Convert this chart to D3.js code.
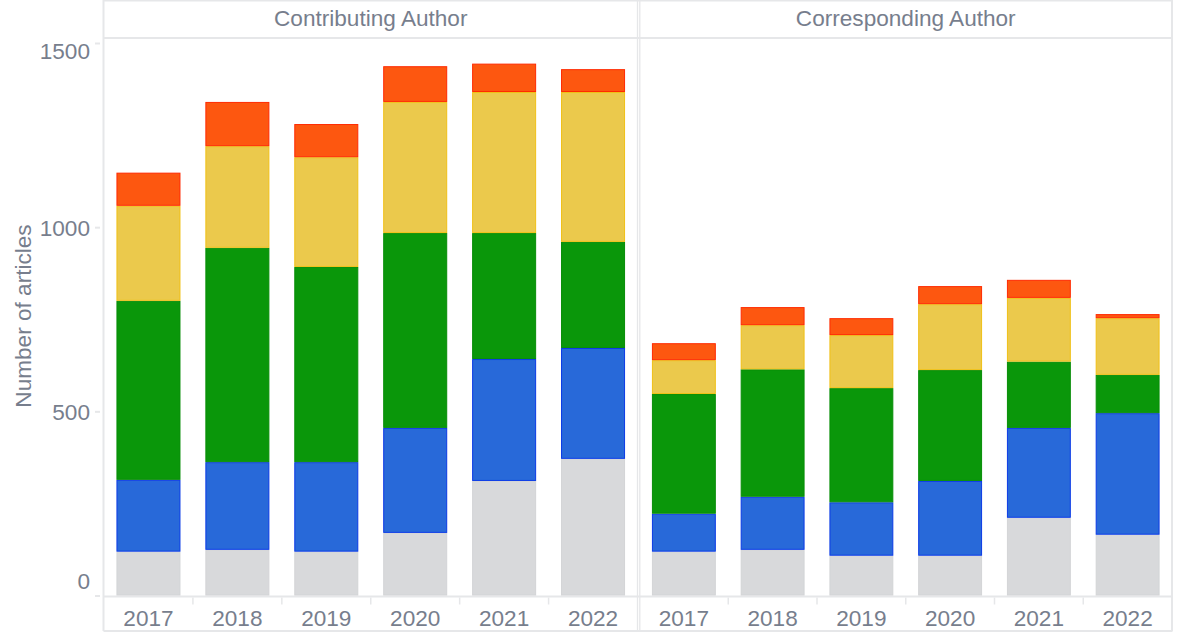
<!DOCTYPE html>
<html>
<head>
<meta charset="utf-8">
<script src="https://cdn.jsdelivr.net/npm/d3@7"></script>
<style>
  html, body { margin: 0; padding: 0; background: #fff; }
  svg { display: block; }
  text { font-family: "Liberation Sans", Arial, Helvetica, sans-serif; fill: #777e8d; }
</style>
</head>
<body>
<svg id="chart" width="1178" height="634"></svg>
<script>
// ---- data ----
const years = ["2017", "2018", "2019", "2020", "2021", "2022"];
const panels = ["Contributing Author", "Corresponding Author"];
const seriesKeys = ["grey", "blue", "green", "yellow", "red"];
const seriesFill = ["#d8d9db", "#2869d9", "#0a970a", "#ebc94c", "#fd5710"];
const seriesStroke = ["#d3d4d6", "#0a3ae6", "#078d07", "#f0c016", "#ff2a00"];
// Contributing Author values by series (per year)
const contribGrey   = [119, 124, 119, 170, 311, 371];
const contribBlue   = [195, 238, 243, 285, 331, 301];
const contribGreen  = [486, 582, 530, 529, 342, 288];
const contribYellow = [258, 276, 298, 356, 383, 407];
const contribRed    = [ 90, 120,  90,  97,  77,  62];
// Corresponding Author values by series (per year)
const corrGrey   = [119, 124, 108, 108, 211, 165];
const corrBlue   = [103, 144, 145, 203, 244, 330];
const corrGreen  = [325, 346, 310, 301, 180, 104];
const corrYellow = [ 92, 120, 144, 179, 173, 154];
const corrRed    = [ 46,  49,  46,  49,  49,  11];
const yTicks = [0, 500, 1000, 1500];
const yTitle = "Number of articles";

const panelData = [
  [contribGrey, contribBlue, contribGreen, contribYellow, contribRed],
  [corrGrey, corrBlue, corrGreen, corrYellow, corrRed]
];

// ---- layout ----
const svg = d3.select("#chart");
const frameColor = "#e6e7e9";
const fontSize = "22.6px";
const frameTop = 0.5, headerBottom = 38, axisY = 596.5, frameBottom = 631;
const panelX = [[104, 637.5], [639.5, 1172]];

const y = d3.scaleLinear().domain([0, 1500]).range([595.5, 43]);

// frame lines
const g0 = svg.append("g");
g0.append("line").attr("x1", 103.5).attr("x2", 103.5).attr("y1", 0).attr("y2", frameBottom)
  .attr("stroke", frameColor).attr("stroke-width", 2);
[frameTop, headerBottom, axisY, frameBottom].forEach(yy => {
  g0.append("line").attr("x1", 103.5).attr("x2", 1172.5).attr("y1", yy).attr("y2", yy)
    .attr("stroke", frameColor).attr("stroke-width", 2);
});
[637.5, 639.8, 1172].forEach(x => {
  g0.append("line").attr("x1", x).attr("x2", x).attr("y1", 0).attr("y2", frameBottom)
    .attr("stroke", frameColor).attr("stroke-width", x === 1172 ? 2 : 1.3);
});

// y axis
const yAxis = d3.axisLeft(y).tickValues(yTicks).tickSize(5).tickPadding(5).tickFormat(d3.format("d"));
const ya = svg.append("g").attr("transform", "translate(100,0)").call(yAxis);
ya.select(".domain").remove();
ya.selectAll(".tick line").attr("stroke", frameColor).attr("stroke-width", 2);
ya.selectAll(".tick text")
  .style("font-size", fontSize)
  .attr("fill", "#777e8d")
  .attr("dy", d => d === 0 ? "-0.32em" : (d === 1500 ? "0.7em" : "0.35em"));

svg.append("text")
  .attr("transform", "translate(31,316) rotate(-90)")
  .attr("text-anchor", "middle")
  .style("font-size", fontSize)
  .text(yTitle);

// panels
panels.forEach((name, pi) => {
  const [x0, x1] = panelX[pi];
  const x = d3.scaleBand().domain(years).range([x0, x1]).paddingInner(0.28).paddingOuter(0.14);
  const g = svg.append("g");

  g.append("text")
    .attr("x", (x0 + x1) / 2).attr("y", 26)
    .attr("text-anchor", "middle")
    .style("font-size", fontSize)
    .text(name);

  const rows = years.map((yr, i) => {
    const r = { year: yr };
    seriesKeys.forEach((k, si) => r[k] = panelData[pi][si][i]);
    return r;
  });
  const stacked = d3.stack().keys(seriesKeys)(rows);

  stacked.forEach((layer, si) => {
    g.selectAll(null).data(layer).enter().append("rect")
      .attr("x", d => x(d.data.year) + 0.5)
      .attr("width", x.bandwidth() - 1)
      .attr("y", d => y(d[1]) + 0.5)
      .attr("height", d => Math.max(0, y(d[0]) - y(d[1]) - 1))
      .attr("fill", seriesFill[si])
      .attr("stroke", seriesStroke[si])
      .attr("stroke-width", 1);
  });

  // x axis with ticks at band boundaries
  const xa = g.append("g").attr("transform", `translate(0,${axisY})`);
  years.forEach((yr, i) => {
    if (i > 0) {
      const bx = x0 + (x1 - x0) / years.length * i;
      xa.append("line").attr("x1", bx).attr("x2", bx).attr("y1", 1).attr("y2", 8)
        .attr("stroke", frameColor).attr("stroke-width", 1.5);
    }
    xa.append("text")
      .attr("x", x(yr) + x.bandwidth() / 2)
      .attr("y", 29)
      .attr("text-anchor", "middle")
      .style("font-size", fontSize)
      .text(yr);
  });
});
</script>
</body>
</html>
